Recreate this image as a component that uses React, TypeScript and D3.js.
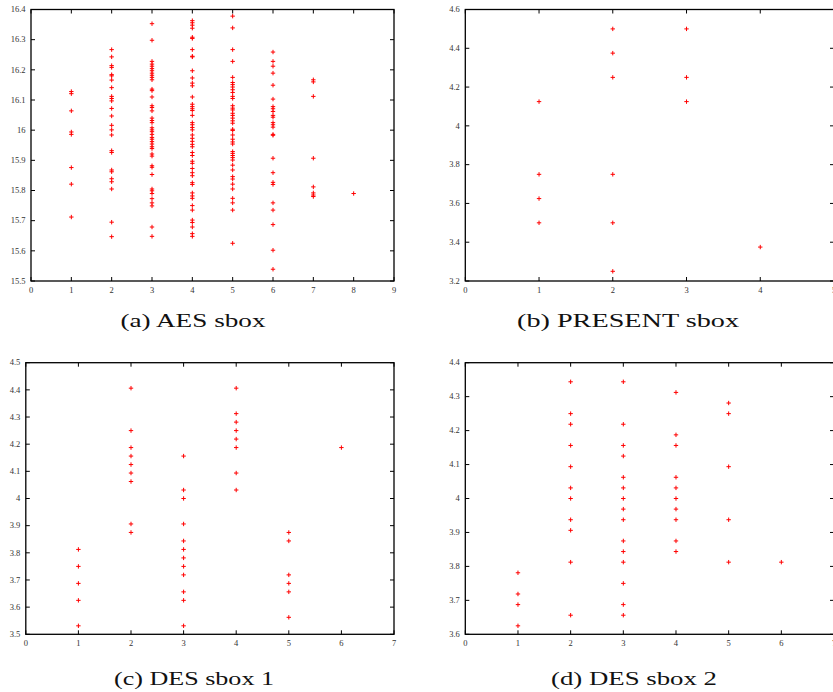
import React from 'react';
import * as d3 from 'd3';

// ---------- (a) AES sbox ----------
const aesXs = [1, 2, 3, 4, 5, 6, 7, 8];
const aesYs: number[][] = [
  [16.128, 16.121, 16.064, 15.994, 15.986, 15.876, 15.821, 15.712],
  [16.267, 16.243, 16.214, 16.208, 16.184, 16.18, 16.166, 16.141, 16.112, 16.105, 16.097, 16.072, 16.047, 16.016, 16.001, 15.984, 15.932, 15.926, 15.868, 15.862, 15.839, 15.829, 15.805, 15.695, 15.647],
  [16.353, 16.298, 16.228, 16.219, 16.212, 16.204, 16.197, 16.189, 16.182, 16.175, 16.167, 16.136, 16.131, 16.11, 16.081, 16.075, 16.064, 16.04, 16.032, 16.025, 16.008, 16.001, 15.995, 15.986, 15.976, 15.97, 15.962, 15.954, 15.945, 15.939, 15.921, 15.914, 15.882, 15.877, 15.853, 15.805, 15.799, 15.79, 15.773, 15.759, 15.749, 15.679, 15.648],
  [16.363, 16.356, 16.348, 16.338, 16.308, 16.304, 16.267, 16.245, 16.243, 16.197, 16.173, 16.156, 16.147, 16.11, 16.086, 16.078, 16.071, 16.065, 16.049, 16.025, 16.018, 16.009, 16.001, 15.984, 15.973, 15.963, 15.953, 15.945, 15.926, 15.916, 15.897, 15.89, 15.873, 15.859, 15.849, 15.826, 15.82, 15.792, 15.782, 15.774, 15.75, 15.735, 15.702, 15.694, 15.679, 15.657, 15.648],
  [16.378, 16.339, 16.267, 16.228, 16.175, 16.158, 16.151, 16.143, 16.134, 16.125, 16.112, 16.105, 16.081, 16.073, 16.067, 16.056, 16.049, 16.04, 16.031, 16.023, 16.003, 15.999, 15.984, 15.97, 15.961, 15.954, 15.929, 15.923, 15.916, 15.909, 15.901, 15.884, 15.868, 15.846, 15.838, 15.821, 15.805, 15.774, 15.759, 15.735, 15.625],
  [16.259, 16.228, 16.212, 16.189, 16.149, 16.103, 16.078, 16.071, 16.062, 16.049, 16.043, 16.025, 16.018, 16.01, 15.986, 15.983, 15.907, 15.859, 15.827, 15.82, 15.759, 15.735, 15.687, 15.602, 15.539],
  [16.167, 16.16, 16.112, 15.907, 15.812, 15.792, 15.785, 15.78],
  [15.79],
];

// ---------- (b) PRESENT sbox ----------
const presentXs = [1, 2, 3, 4];
const presentYs: number[][] = [
  [4.125, 3.75, 3.625, 3.5],
  [4.5, 4.375, 4.25, 3.75, 3.5, 3.25],
  [4.5, 4.25, 4.125],
  [3.375],
];

// ---------- (c) DES sbox 1 ----------
const des1Xs = [1, 2, 3, 4, 5, 6];
const des1Ys: number[][] = [
  [3.8125, 3.75, 3.6875, 3.625, 3.53125],
  [4.40625, 4.25, 4.1875, 4.15625, 4.125, 4.09375, 4.0625, 3.90625, 3.875],
  [4.15625, 4.03125, 4.0, 3.90625, 3.84375, 3.8125, 3.78125, 3.75, 3.71875, 3.65625, 3.625, 3.53125],
  [4.40625, 4.3125, 4.28125, 4.25, 4.21875, 4.1875, 4.09375, 4.03125],
  [3.875, 3.84375, 3.71875, 3.6875, 3.65625, 3.5625],
  [4.1875],
];

// ---------- (d) DES sbox 2 ----------
const des2Xs = [1, 2, 3, 4, 5, 6];
const des2Ys: number[][] = [
  [3.78125, 3.71875, 3.6875, 3.625],
  [4.34375, 4.25, 4.21875, 4.15625, 4.09375, 4.03125, 4.0, 3.9375, 3.90625, 3.8125, 3.65625],
  [4.34375, 4.21875, 4.15625, 4.125, 4.0625, 4.03125, 4.0, 3.96875, 3.9375, 3.875, 3.84375, 3.8125, 3.75, 3.6875, 3.65625],
  [4.3125, 4.1875, 4.15625, 4.0625, 4.03125, 4.0, 3.96875, 3.9375, 3.875, 3.84375],
  [4.28125, 4.25, 4.09375, 3.9375, 3.8125],
  [3.8125],
];

const captions = ['(a) AES sbox', '(b) PRESENT sbox', '(c) DES sbox 1', '(d) DES sbox 2'];

type PanelDef = {
  xs: number[];
  ys: number[][];
  xDomain: [number, number];
  yDomain: [number, number];
  yStep: number;
  left: number;
  right: number;
  top: number;
  bottom: number;
  caption: string;
  capX: number;
  capW: number;
  capY: number;
};

const panels: PanelDef[] = [
  { xs: aesXs, ys: aesYs, xDomain: [0, 9], yDomain: [15.5, 16.4], yStep: 0.1, left: 31, right: 394, top: 9.5, bottom: 281, caption: captions[0], capX: 120.5, capW: 145, capY: 327 },
  { xs: presentXs, ys: presentYs, xDomain: [0, 5], yDomain: [3.2, 4.6], yStep: 0.2, left: 465.3, right: 834, top: 9.5, bottom: 281, caption: captions[1], capX: 517, capW: 222, capY: 327 },
  { xs: des1Xs, ys: des1Ys, xDomain: [0, 7], yDomain: [3.5, 4.5], yStep: 0.1, left: 25.8, right: 394, top: 362.7, bottom: 634.3, caption: captions[2], capX: 114, capW: 160, capY: 685 },
  { xs: des2Xs, ys: des2Ys, xDomain: [0, 7], yDomain: [3.6, 4.4], yStep: 0.1, left: 465.3, right: 834, top: 362.7, bottom: 634.3, caption: captions[3], capX: 551, capW: 166, capY: 685 },
];

const FONT = '"Liberation Serif", "Times New Roman", serif';
const TICK = 4;

function Panel({ p }: { p: PanelDef }) {
  const x = d3.scaleLinear().domain(p.xDomain).range([p.left, p.right]);
  const y = d3.scaleLinear().domain(p.yDomain).range([p.bottom, p.top]);
  const xTicks = d3.range(p.xDomain[0], p.xDomain[1] + 0.5, 1);
  const nY = Math.round((p.yDomain[1] - p.yDomain[0]) / p.yStep);
  const yTicks = d3.range(0, nY + 1).map((i) => +(p.yDomain[0] + i * p.yStep).toFixed(3));
  const fmt = (v: number) => `${+v.toFixed(2)}`;
  const plus = 2.2;

  return (
    <g>
      {p.ys.map((col, ci) =>
        col.map((v, i) => {
          const cx = x(p.xs[ci]);
          const cy = y(v);
          return (
            <path
              key={`${ci}-${i}`}
              d={`M${cx - plus},${cy}H${cx + plus}M${cx},${cy - plus}V${cy + plus}`}
              stroke="#ff0000"
              strokeWidth={1}
              fill="none"
            />
          );
        })
      )}
      {xTicks.map((t) => (
        <g key={`xt${t}`}>
          <line x1={x(t)} x2={x(t)} y1={p.bottom} y2={p.bottom - TICK} stroke="#000" strokeWidth={1} />
          <line x1={x(t)} x2={x(t)} y1={p.top} y2={p.top + TICK} stroke="#000" strokeWidth={1} />
          <text x={x(t)} y={p.bottom + 12} textAnchor="middle" fontFamily={FONT} fontSize={8.5} fill="#333">
            {fmt(t)}
          </text>
        </g>
      ))}
      {yTicks.map((t) => (
        <g key={`yt${t}`}>
          <line x1={p.left} x2={p.left + TICK} y1={y(t)} y2={y(t)} stroke="#000" strokeWidth={1} />
          <line x1={p.right} x2={p.right - TICK} y1={y(t)} y2={y(t)} stroke="#000" strokeWidth={1} />
          <text x={p.left - 5.5} y={y(t)} dy="0.32em" textAnchor="end" fontFamily={FONT} fontSize={8.5} fill="#333">
            {fmt(t)}
          </text>
        </g>
      ))}
      <rect x={p.left} y={p.top} width={p.right - p.left} height={p.bottom - p.top} fill="none" stroke="#000" strokeWidth={1.3} />
      <text x={p.capX} y={p.capY} fontFamily={FONT} fontSize={19} fill="#111" textLength={p.capW} lengthAdjust="spacingAndGlyphs">
        {p.caption}
      </text>
    </g>
  );
}

export default function App() {
  return (
    <svg
      width={833}
      height={692}
      viewBox="0 0 833 692"
      style={{ position: 'absolute', left: 0, top: 0, background: '#fff' }}
    >
      <rect x={0} y={0} width={833} height={692} fill="#fff" />
      {panels.map((p, i) => (
        <Panel key={i} p={p} />
      ))}
    </svg>
  );
}
